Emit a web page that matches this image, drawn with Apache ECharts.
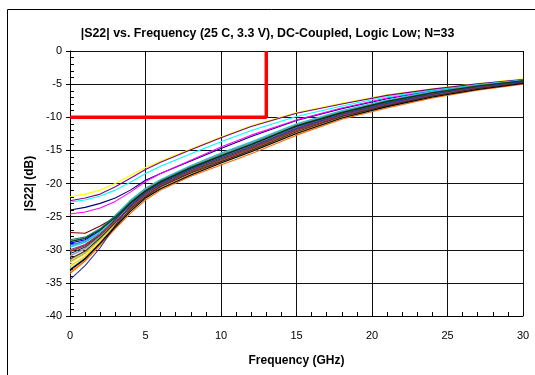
<!DOCTYPE html>
<html><head><meta charset="utf-8">
<script src="https://cdn.jsdelivr.net/npm/echarts/dist/echarts.min.js"></script>
<style>html,body{margin:0;padding:0;background:#fff}#c{width:535px;height:375px}</style>
</head><body><div id="c"></div>
<script>
// Frequency points (GHz)
const freqGHz = [0, 1, 2, 3, 4, 5, 6, 8, 10, 12, 15, 18, 21, 24, 27, 30];
// Axis ticks
const xTicks = [0, 5, 10, 15, 20, 25, 30];
const yTicks = [-40, -35, -30, -25, -20, -15, -10, -5, 0];
// Spec limit line
const limitX = [0, 13, 13];
const limitY = [-10, -10, 0];

// |S22| (dB) per unit, N=33
const s01 = [-24.0,-23.6,-23.0,-22.2,-21.0,-19.5,-18.5,-16.6,-14.7,-12.9,-10.5,-8.7,-7.2,-6.0,-5.1,-4.4];
const s02 = [-24.6,-24.3,-23.7,-22.7,-21.3,-19.7,-18.5,-16.5,-14.5,-12.7,-10.4,-8.6,-7.1,-5.95,-5.05,-4.4];
const s03 = [-22.0,-21.6,-21.0,-20.0,-18.8,-17.6,-16.6,-14.8,-13.0,-11.3,-9.3,-7.9,-6.6,-5.7,-4.9,-4.2];
const s04 = [-22.8,-22.5,-21.9,-21.0,-19.8,-18.5,-17.4,-15.5,-13.7,-12.0,-9.9,-8.3,-6.9,-5.9,-5.0,-4.35];
const s05 = [-22.6,-22.2,-21.6,-20.5,-19.2,-17.9,-16.8,-14.9,-13.1,-11.4,-9.4,-8.0,-6.7,-5.75,-4.95,-4.3];
const s06 = [-27.4,-27.5,-26.4,-25.1,-23.4,-21.5,-20.1,-18.0,-16.2,-14.5,-11.8,-9.6,-7.9,-6.55,-5.45,-4.67];
const s07 = [-28.5,-28.1,-26.8,-24.8,-22.6,-20.8,-19.5,-17.4,-15.5,-13.8,-11.1,-9.1,-7.5,-6.15,-5.15,-4.43];
const s08 = [-29.0,-28.5,-27.1,-25.1,-22.9,-21.0,-19.7,-17.7,-15.8,-14.0,-11.3,-9.25,-7.6,-6.3,-5.3,-4.5];
const s09 = [-29.6,-28.9,-27.4,-25.0,-22.5,-20.7,-19.4,-17.3,-15.4,-13.7,-11.0,-9.0,-7.4,-6.1,-5.1,-4.4];
const s10 = [-32.7,-31.1,-28.9,-26.6,-24.3,-22.3,-20.8,-18.7,-17.0,-15.3,-12.5,-10.2,-8.5,-7.0,-5.8,-4.95];
const s11 = [-32.5,-31.0,-28.8,-26.4,-24.0,-22.1,-20.6,-18.5,-16.8,-15.1,-12.3,-10.0,-8.3,-6.85,-5.7,-4.85];
const s12 = [-32.3,-30.8,-28.6,-26.3,-23.9,-22.0,-20.5,-18.4,-16.7,-15.0,-12.2,-9.9,-8.25,-6.8,-5.65,-4.8];
const s13 = [-32.9,-31.2,-28.9,-26.1,-23.5,-21.6,-20.2,-18.1,-16.3,-14.6,-11.85,-9.65,-8.0,-6.6,-5.5,-4.7];
const s14 = [-31.6,-30.3,-28.3,-26.1,-23.8,-21.9,-20.4,-18.3,-16.6,-14.9,-12.1,-9.85,-8.2,-6.75,-5.6,-4.8];
const s15 = [-31.0,-29.9,-28.0,-25.7,-23.3,-21.4,-20.0,-17.9,-16.1,-14.4,-11.7,-9.5,-7.9,-6.5,-5.4,-4.65];
const s16 = [-32.0,-30.6,-28.5,-26.4,-24.2,-22.2,-20.8,-18.7,-16.9,-15.2,-12.45,-10.1,-8.4,-6.95,-5.8,-4.9];
const s17 = [-29.3,-28.7,-27.2,-25.3,-23.1,-21.2,-19.9,-17.8,-15.9,-14.2,-11.5,-9.4,-7.8,-6.4,-5.35,-4.6];
const s18 = [-29.5,-28.8,-27.3,-25.1,-22.7,-20.9,-19.55,-17.45,-15.6,-13.9,-11.15,-9.1,-7.5,-6.2,-5.2,-4.45];
const s19 = [-31.8,-30.5,-28.4,-25.9,-23.4,-21.5,-20.1,-18.0,-16.2,-14.5,-11.8,-9.6,-7.95,-6.55,-5.45,-4.7];
const s20 = [-32.5,-31.0,-28.8,-26.2,-23.7,-21.8,-20.4,-18.25,-16.5,-14.85,-12.0,-9.8,-8.1,-6.7,-5.6,-4.75];
const s21 = [-33.4,-31.6,-29.2,-26.6,-24.1,-22.1,-20.7,-18.6,-16.8,-15.1,-12.35,-10.05,-8.35,-6.9,-5.75,-4.9];
const s22 = [-33.6,-31.7,-29.3,-26.8,-24.5,-22.5,-21.0,-18.9,-17.2,-15.5,-12.7,-10.3,-8.6,-7.1,-5.9,-5.0];
const s23 = [-30.2,-29.3,-27.6,-25.5,-23.2,-21.3,-20.0,-17.9,-16.0,-14.3,-11.6,-9.45,-7.8,-6.45,-5.4,-4.6];
const s24 = [-30.9,-29.8,-28.0,-25.3,-22.7,-20.8,-19.5,-17.4,-15.5,-13.85,-11.1,-9.1,-7.5,-6.2,-5.15,-4.45];
const s25 = [-30.6,-29.6,-27.8,-25.4,-23.0,-21.2,-19.8,-17.7,-15.9,-14.1,-11.4,-9.3,-7.7,-6.35,-5.3,-4.55];
const s26 = [-28.7,-28.2,-26.9,-25.0,-22.8,-21.0,-19.6,-17.5,-15.7,-14.0,-11.25,-9.2,-7.6,-6.25,-5.2,-4.5];
const s27 = [-28.8,-28.3,-27.0,-25.1,-22.9,-21.1,-19.7,-17.6,-15.8,-14.1,-11.3,-9.3,-7.6,-6.3,-5.3,-4.5];
const s28 = [-31.4,-30.2,-28.2,-25.9,-23.5,-21.6,-20.2,-18.1,-16.3,-14.6,-11.85,-9.65,-8.0,-6.6,-5.5,-4.7];
const s29 = [-30.3,-29.4,-27.7,-25.8,-23.7,-21.8,-20.4,-18.3,-16.5,-14.8,-12.0,-9.8,-8.1,-6.7,-5.6,-4.75];
const s30 = [-30.0,-29.2,-27.6,-25.7,-23.6,-21.7,-20.3,-18.2,-16.4,-14.7,-11.9,-9.7,-8.1,-6.65,-5.55,-4.75];
const s31 = [-34.5,-32.4,-29.7,-26.3,-23.3,-21.4,-20.0,-17.9,-16.1,-14.4,-11.7,-9.5,-7.9,-6.5,-5.4,-4.65];
const s32 = [-33.0,-31.3,-29.0,-26.4,-23.9,-22.0,-20.5,-18.4,-16.7,-15.0,-12.2,-9.9,-8.25,-6.8,-5.65,-4.8];
const s33 = [-33.1,-31.4,-29.0,-26.6,-24.2,-22.2,-20.8,-18.7,-16.9,-15.2,-12.45,-10.1,-8.4,-6.95,-5.8,-4.9];

const allUnits = [s01,s02,s03,s04,s05,s06,s07,s08,s09,s10,s11,s12,s13,s14,s15,s16,s17,s18,s19,s20,s21,s22,s23,s24,s25,s26,s27,s28,s29,s30,s31,s32,s33];

// Styles (separate from data)
const lineColors = ['#000080','#FF00FF','#FFFF00','#00FFFF','#800080','#800000','#008080','#0000FF',
  '#00CCFF','#CCFFFF','#CCFFCC','#FFFF99','#99CCFF','#FF99CC','#CC99FF','#FFCC99','#3366FF','#33CCCC',
  '#99CC00','#FFCC00','#FF9900','#FF6600','#666699','#969696','#003366','#339966','#003300','#333300',
  '#993300','#993366','#333399','#333333','#000000'];

const FONT = '"Liberation Sans", Arial, sans-serif';
const chart = echarts.init(document.getElementById('c'), null, {renderer: 'canvas'});

const series = allUnits.map((vals, i) => ({
  type: 'line',
  name: 'Unit ' + (i + 1),
  xAxisIndex: 0, yAxisIndex: 0,
  data: freqGHz.map((f, j) => [f, vals[j]]),
  showSymbol: false, symbol: 'none',
  lineStyle: {color: lineColors[i], width: 1.1},
  silent: true, z: 2
}));
series.push({
  type: 'line', name: 'Limit', xAxisIndex: 0, yAxisIndex: 0,
  data: limitX.map((x, j) => [x, limitY[j]]),
  showSymbol: false, symbol: 'none',
  lineStyle: {color: '#FF0000', width: 3.5}, silent: true, z: 3
});

const axisFont = {fontFamily: FONT, fontSize: 11, color: '#000'};
const xMin = xTicks[0], xMax = xTicks[xTicks.length - 1], xStep = xTicks[1] - xTicks[0];
const yMin = yTicks[0], yMax = yTicks[yTicks.length - 1], yStep = yTicks[1] - yTicks[0];

chart.setOption({
  animation: false,
  backgroundColor: '#fff',
  title: {
    text: '|S22| vs. Frequency (25 C, 3.3 V), DC-Coupled, Logic Low; N=33',
    left: 'center', top: 23,
    textStyle: {fontFamily: FONT, fontSize: 12.4, fontWeight: 'bold', color: '#000'}
  },
  grid: {left: 70, right: 12, top: 51, bottom: 59, containLabel: false, outerBoundsMode: 'none'},
  xAxis: [{
    type: 'value', min: xMin, max: xMax, interval: xStep,
    name: 'Frequency (GHz)', nameLocation: 'middle', nameGap: 39,
    nameTextStyle: {fontFamily: FONT, fontSize: 12, fontWeight: 'bold', color: '#000'},
    axisLine: {show: true, onZero: false, lineStyle: {color: '#000', width: 1}},
    axisTick: {show: true, inside: true, length: 4, lineStyle: {color: '#000'}},
    minorTick: {show: true, splitNumber: 5, length: 4, lineStyle: {color: '#000'}},
    axisLabel: Object.assign({margin: 14}, axisFont),
    splitLine: {show: true, lineStyle: {color: '#111', width: 1}}
  }, {
    type: 'value', min: xMin, max: xMax, interval: xStep, position: 'bottom',
    axisLine: {show: false}, axisLabel: {show: false}, splitLine: {show: false},
    axisTick: {show: true, inside: false, length: 4, lineStyle: {color: '#000'}}
  }],
  yAxis: [{
    type: 'value', min: yMin, max: yMax, interval: yStep,
    name: '|S22| (dB)', nameLocation: 'middle', nameGap: 31, nameRotate: 90,
    nameTextStyle: {fontFamily: FONT, fontSize: 12, fontWeight: 'bold', color: '#000'},
    axisLine: {show: true, onZero: false, lineStyle: {color: '#000', width: 1}},
    axisTick: {show: true, inside: true, length: 4, lineStyle: {color: '#000'}},
    minorTick: {show: true, splitNumber: 5, length: 4, lineStyle: {color: '#000'}},
    axisLabel: Object.assign({margin: 8}, axisFont),
    splitLine: {show: true, lineStyle: {color: '#111', width: 1}}
  }, {
    type: 'value', min: yMin, max: yMax, interval: yStep, position: 'left',
    axisLine: {show: false}, axisLabel: {show: false}, splitLine: {show: false},
    axisTick: {show: true, inside: false, length: 4, lineStyle: {color: '#000'}}
  }],
  graphic: [{
    type: 'rect', silent: true, z: 100,
    shape: {x: 7.5, y: 9.5, width: 560, height: 400},
    style: {fill: 'none', stroke: '#000', lineWidth: 1}
  }],
  series: series
});
</script></body></html>
